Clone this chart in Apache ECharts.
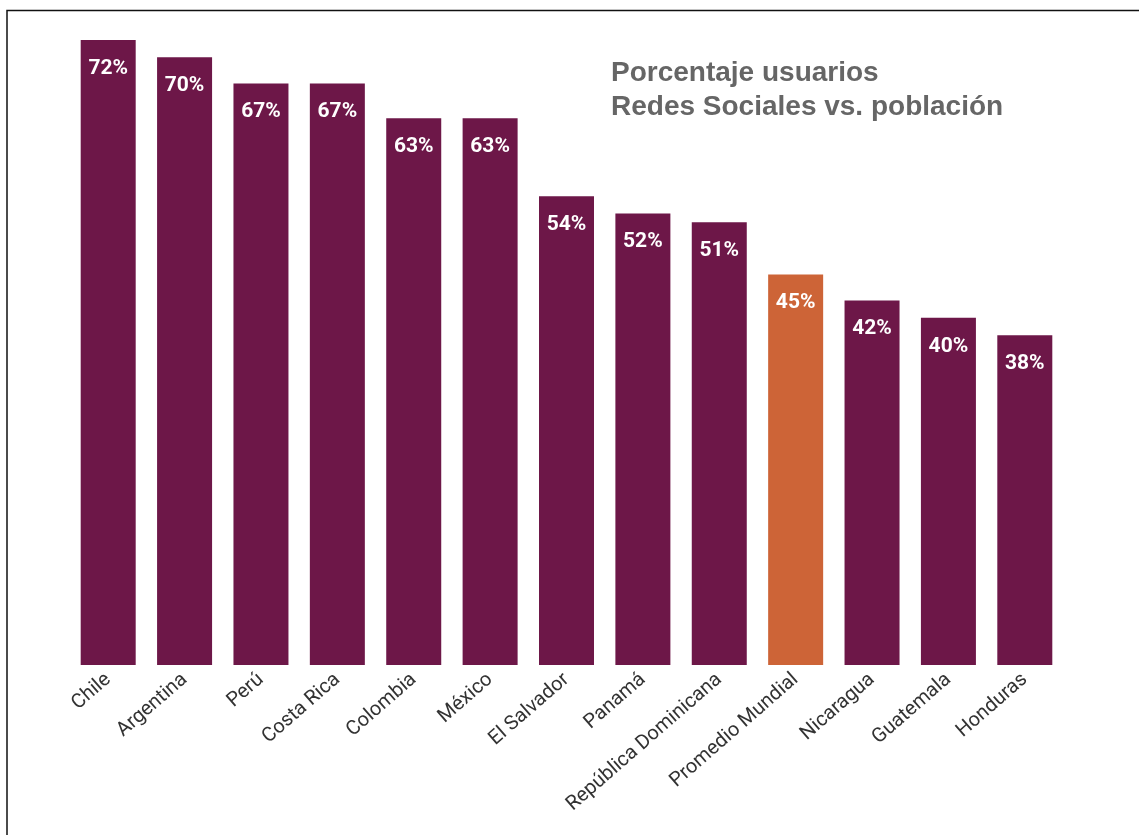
<!DOCTYPE html>
<html>
<head>
<meta charset="utf-8">
<script src="https://cdn.jsdelivr.net/npm/echarts@6/dist/echarts.min.js"></script>
<style>
  html, body { margin: 0; padding: 0; background: #ffffff; }
  #chart { width: 1139px; height: 835px; }
</style>
</head>
<body>
<div id="chart"></div>
<script>
const categories = ['Chile', 'Argentina', 'Perú', 'Costa Rica', 'Colombia', 'México', 'El Salvador', 'Panamá', 'República Dominicana', 'Promedio Mundial', 'Nicaragua', 'Guatemala', 'Honduras'];
const values = [72, 70, 67, 67, 63, 63, 54, 52, 51, 45, 42, 40, 38];
const highlightCategory = 'Promedio Mundial';
const titleLines = ['Porcentaje usuarios', 'Redes Sociales vs. población'];

const PURPLE = '#6d1748';
const ORANGE = '#cd6437';
const NARROW = 'Roboto, "Liberation Sans", sans-serif';

const chart = echarts.init(document.getElementById('chart'), null, { renderer: 'canvas' });
chart.setOption({
  backgroundColor: '#ffffff',
  animation: false,
  title: {
    text: titleLines.join('\n'),
    left: 606,
    top: 51,
    textStyle: {
      fontFamily: '"Liberation Sans", Arial, sans-serif',
      fontWeight: 'bold',
      fontSize: 28,
      lineHeight: 34,
      color: '#666666'
    }
  },
  grid: { left: 70, right: 76, top: 40, bottom: 170, containLabel: false },
  xAxis: {
    type: 'category',
    data: categories,
    axisLine: { show: false },
    axisTick: { show: false },
    axisLabel: {
      rotate: 41,
      interval: 0,
      margin: 12,
      fontFamily: NARROW,
      fontSize: 20,
      color: '#333333'
    }
  },
  yAxis: {
    type: 'value',
    min: 0,
    max: 72,
    show: false,
    splitLine: { show: false }
  },
  series: [{
    type: 'bar',
    data: values,
    barWidth: 55,
    itemStyle: {
      color: function (p) { return p.name === highlightCategory ? ORANGE : PURPLE; }
    },
    label: {
      show: true,
      position: 'insideTop',
      distance: 18,
      formatter: '{c}%',
      fontFamily: NARROW,
      fontWeight: 'bold',
      fontSize: 21,
      color: '#ffffff'
    }
  }],
  graphic: [{
    type: 'polyline',
    shape: { points: [[7, 835], [7, 10.5], [1139, 10.5]] },
    style: { stroke: '#111111', lineWidth: 1.5, fill: null },
    silent: true
  }]
});
</script>
</body>
</html>
